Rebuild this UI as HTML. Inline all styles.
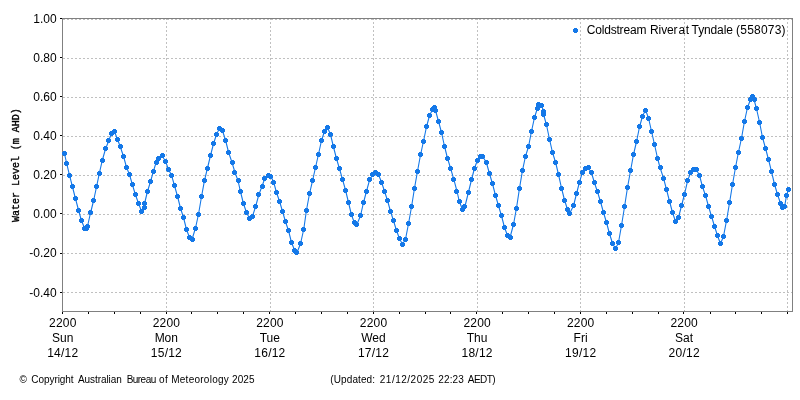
<!DOCTYPE html>
<html lang="en">
<head>
<meta charset="utf-8">
<title>Coldstream River at Tyndale (558073)</title>
<style>
html,body{margin:0;padding:0;background:#fff;}
body{width:800px;height:400px;overflow:hidden;}
svg{display:block;will-change:transform;}
text{font-family:"Liberation Sans","DejaVu Sans",sans-serif;fill:#000;}
.t12{font-size:12px;}
.t10{font-size:10px;}
.mono{font-family:"Liberation Mono","DejaVu Sans Mono",monospace;font-size:10px;stroke:#000;stroke-width:0.35px;}
</style>
</head>
<body>
<svg width="800" height="400" viewBox="0 0 800 400">
<rect x="0" y="0" width="800" height="400" fill="#ffffff"/>
<g stroke="#c0c0c0" stroke-width="1" stroke-dasharray="2,2" shape-rendering="crispEdges"><line x1="63" y1="19.5" x2="792" y2="19.5"/><line x1="63" y1="58.5" x2="792" y2="58.5"/><line x1="63" y1="97.5" x2="792" y2="97.5"/><line x1="63" y1="136.5" x2="792" y2="136.5"/><line x1="63" y1="175.5" x2="792" y2="175.5"/><line x1="63" y1="214.5" x2="792" y2="214.5"/><line x1="63" y1="253.5" x2="792" y2="253.5"/><line x1="63" y1="292.5" x2="792" y2="292.5"/><line x1="166.5" y1="18" x2="166.5" y2="311"/><line x1="270.5" y1="18" x2="270.5" y2="311"/><line x1="373.5" y1="18" x2="373.5" y2="311"/><line x1="477.5" y1="18" x2="477.5" y2="311"/><line x1="580.5" y1="18" x2="580.5" y2="311"/><line x1="684.5" y1="18" x2="684.5" y2="311"/><line x1="787.5" y1="18" x2="787.5" y2="311"/></g>
<rect x="62.5" y="18.5" width="730" height="293" fill="none" stroke="#808080" stroke-width="1" shape-rendering="crispEdges"/>
<g stroke="#000000" stroke-width="1" shape-rendering="crispEdges"><line x1="60" y1="18.5" x2="62" y2="18.5"/><line x1="60" y1="57.5" x2="62" y2="57.5"/><line x1="60" y1="96.5" x2="62" y2="96.5"/><line x1="60" y1="135.5" x2="62" y2="135.5"/><line x1="60" y1="174.5" x2="62" y2="174.5"/><line x1="60" y1="213.5" x2="62" y2="213.5"/><line x1="60" y1="253.5" x2="62" y2="253.5"/><line x1="60" y1="292.5" x2="62" y2="292.5"/><line x1="62.5" y1="312" x2="62.5" y2="314"/><line x1="88.5" y1="312" x2="88.5" y2="314"/><line x1="114.5" y1="312" x2="114.5" y2="314"/><line x1="140.5" y1="312" x2="140.5" y2="314"/><line x1="166.5" y1="312" x2="166.5" y2="314"/><line x1="191.5" y1="312" x2="191.5" y2="314"/><line x1="217.5" y1="312" x2="217.5" y2="314"/><line x1="243.5" y1="312" x2="243.5" y2="314"/><line x1="269.5" y1="312" x2="269.5" y2="314"/><line x1="295.5" y1="312" x2="295.5" y2="314"/><line x1="321.5" y1="312" x2="321.5" y2="314"/><line x1="347.5" y1="312" x2="347.5" y2="314"/><line x1="373.5" y1="312" x2="373.5" y2="314"/><line x1="399.5" y1="312" x2="399.5" y2="314"/><line x1="425.5" y1="312" x2="425.5" y2="314"/><line x1="450.5" y1="312" x2="450.5" y2="314"/><line x1="476.5" y1="312" x2="476.5" y2="314"/><line x1="502.5" y1="312" x2="502.5" y2="314"/><line x1="528.5" y1="312" x2="528.5" y2="314"/><line x1="554.5" y1="312" x2="554.5" y2="314"/><line x1="580.5" y1="312" x2="580.5" y2="314"/><line x1="606.5" y1="312" x2="606.5" y2="314"/><line x1="632.5" y1="312" x2="632.5" y2="314"/><line x1="658.5" y1="312" x2="658.5" y2="314"/><line x1="683.5" y1="312" x2="683.5" y2="314"/><line x1="710.5" y1="312" x2="710.5" y2="314"/><line x1="735.5" y1="312" x2="735.5" y2="314"/><line x1="761.5" y1="312" x2="761.5" y2="314"/><line x1="787.5" y1="312" x2="787.5" y2="314"/></g>
<g class="t12"><text x="56.6" y="22.9" text-anchor="end">1.00</text><text x="56.6" y="62.0" text-anchor="end">0.80</text><text x="56.6" y="101.1" text-anchor="end">0.60</text><text x="56.6" y="140.2" text-anchor="end">0.40</text><text x="56.6" y="179.2" text-anchor="end">0.20</text><text x="56.6" y="218.3" text-anchor="end">0.00</text><text x="56.6" y="257.4" text-anchor="end">-0.20</text><text x="56.6" y="296.5" text-anchor="end">-0.40</text></g>
<g class="t12"><text x="49.1" y="327" textLength="27.3" lengthAdjust="spacing">2200</text><text x="62.7" y="342" text-anchor="middle">Sun</text><text x="47.2" y="356.8" textLength="31" lengthAdjust="spacing">14/12</text><text x="152.7" y="327" textLength="27.3" lengthAdjust="spacing">2200</text><text x="166.3" y="342" text-anchor="middle">Mon</text><text x="150.8" y="356.8" textLength="31" lengthAdjust="spacing">15/12</text><text x="256.2" y="327" textLength="27.3" lengthAdjust="spacing">2200</text><text x="269.8" y="342" text-anchor="middle">Tue</text><text x="254.3" y="356.8" textLength="31" lengthAdjust="spacing">16/12</text><text x="359.8" y="327" textLength="27.3" lengthAdjust="spacing">2200</text><text x="373.4" y="342" text-anchor="middle">Wed</text><text x="357.9" y="356.8" textLength="31" lengthAdjust="spacing">17/12</text><text x="463.4" y="327" textLength="27.3" lengthAdjust="spacing">2200</text><text x="477.0" y="342" text-anchor="middle">Thu</text><text x="461.5" y="356.8" textLength="31" lengthAdjust="spacing">18/12</text><text x="567.0" y="327" textLength="27.3" lengthAdjust="spacing">2200</text><text x="580.6" y="342" text-anchor="middle">Fri</text><text x="565.1" y="356.8" textLength="31" lengthAdjust="spacing">19/12</text><text x="670.5" y="327" textLength="27.3" lengthAdjust="spacing">2200</text><text x="684.1" y="342" text-anchor="middle">Sat</text><text x="668.6" y="356.8" textLength="31" lengthAdjust="spacing">20/12</text></g>
<text class="mono" transform="translate(19,222) rotate(-90)" textLength="113.8" lengthAdjust="spacing">Water Level (m AHD)</text>
<polyline points="64.5,153.75 66.75,163.75 69.5,175.12 72.5,187.0 75.5,198.75 78.5,210.0 81.5,220.75 84.5,228.0 86.0,228.0 87.5,226.25 90.5,213.0 93.5,201.0 96.5,187.0 99.38,173.12 102.25,160.5 105.5,149.0 108.75,140.75 111.25,133.75 114.5,131.75 117.5,139.25 120.25,146.75 123.5,156.25 126.5,167.25 129.5,174.62 132.5,185.0 135.5,195.0 138.5,203.25 141.5,211.25 144.25,207.25 144.5,203.75 147.5,191.25 150.5,181.75 153.38,171.38 156.25,162.0 158.75,158.75 162.0,155.75 165.5,161.25 168.5,169.5 171.5,175.12 174.5,185.75 177.5,196.25 180.5,208.25 183.5,217.5 186.5,229.5 189.5,237.5 192.0,239.5 195.5,228.0 198.5,214.25 201.5,196.75 204.5,180.38 207.5,168.0 210.5,155.5 213.5,143.75 216.5,134.5 219.5,128.25 222.5,130.75 225.5,140.0 228.5,152.0 232.0,162.5 235.0,172.5 238.0,180.62 240.5,191.75 243.5,203.75 246.5,212.5 249.5,218.25 252.5,216.25 255.5,207.0 258.75,195.0 262.0,186.25 265.0,178.0 268.0,175.5 271.0,176.25 273.75,182.5 276.5,192.5 279.5,201.25 282.5,211.25 285.5,221.75 288.5,230.5 291.5,242.5 294.5,250.0 297.0,252.5 300.5,243.75 303.75,229.25 306.5,210.0 309.5,193.75 312.5,180.88 315.5,167.5 318.5,154.25 321.5,140.5 324.5,131.25 327.5,127.5 330.5,134.5 333.5,147.0 336.5,158.75 339.5,168.75 342.5,179.38 345.5,190.0 348.5,202.5 351.5,215.0 354.5,223.0 357.0,224.25 360.5,215.75 363.5,202.5 366.5,191.25 369.75,179.38 372.75,175.0 375.5,172.75 378.5,174.75 381.5,182.0 384.5,191.25 387.5,200.5 390.5,211.25 393.5,220.75 396.5,230.5 399.5,238.75 402.5,244.25 405.5,239.25 408.5,223.75 411.5,207.0 414.5,188.25 417.5,171.25 420.5,155.0 423.5,141.25 426.5,126.75 429.5,115.75 432.5,109.5 434.0,107.5 435.5,110.5 438.5,121.25 441.5,132.5 444.5,146.25 447.5,158.25 450.5,168.0 453.88,179.62 457.0,191.25 459.25,201.25 462.5,209.5 465.0,206.25 468.5,192.0 471.5,179.75 474.5,168.25 477.5,160.0 480.5,157.0 483.0,156.75 486.5,163.0 489.5,173.75 492.5,183.75 495.5,195.5 498.5,205.75 501.5,215.75 504.5,227.5 507.5,235.5 510.0,237.5 513.5,224.5 516.5,208.0 519.5,188.25 522.5,170.38 525.5,156.25 528.5,146.75 531.5,131.25 534.5,117.5 537.5,108.0 538.75,105.0 541.75,105.25 543.5,111.5 543.6,114.5 546.5,125.0 549.5,139.25 552.5,152.5 555.5,162.0 558.5,174.5 561.5,188.0 564.5,200.0 567.5,209.5 569.5,213.75 573.5,205.75 576.5,193.75 579.5,182.0 582.5,172.12 585.5,168.0 588.0,167.5 591.5,172.75 594.5,183.0 597.5,191.75 600.5,201.75 603.5,212.5 606.5,222.5 609.5,233.75 612.5,243.25 615.5,248.75 618.5,242.5 621.5,225.5 624.5,207.0 627.5,187.5 630.5,171.0 633.5,154.5 636.5,141.75 639.5,127.0 642.5,116.25 645.5,110.0 648.5,118.0 651.5,131.25 654.5,144.5 657.5,158.0 660.0,167.5 663.5,178.12 666.5,189.5 669.5,201.25 672.5,212.5 675.5,221.25 678.5,217.5 681.5,205.75 684.5,194.25 687.75,180.12 690.75,172.5 693.75,169.75 696.5,169.75 699.5,175.5 702.5,186.75 705.5,195.5 708.5,206.25 711.5,216.25 714.5,226.25 717.5,235.75 720.5,243.75 723.5,236.25 726.5,220.75 729.5,203.0 732.5,184.5 735.5,167.5 738.5,152.0 741.5,138.25 744.5,121.25 747.5,107.5 750.5,99.5 752.25,96.5 754.0,99.5 756.5,108.75 759.5,122.0 762.5,137.5 765.5,148.25 768.5,159.5 771.5,171.62 774.5,184.25 777.5,194.5 780.5,203.25 782.5,207.5 784.5,207.0 786.5,195.75 788.5,189.25" fill="none" stroke="#1478e8" stroke-width="1.1" stroke-linejoin="round"/>
<g fill="#1478e8" shape-rendering="crispEdges"><path d="M63,151h3v1h1v3h-1v1h-3v-1h-1v-3h1z"/><path d="M65,161h3v1h1v3h-1v1h-3v-1h-1v-3h1z"/><path d="M68,173h3v1h1v3h-1v1h-3v-1h-1v-3h1z"/><path d="M71,184h3v1h1v3h-1v1h-3v-1h-1v-3h1z"/><path d="M74,196h3v1h1v3h-1v1h-3v-1h-1v-3h1z"/><path d="M77,208h3v1h1v3h-1v1h-3v-1h-1v-3h1z"/><path d="M80,218h3v1h1v3h-1v1h-3v-1h-1v-3h1z"/><path d="M83,226h3v1h1v3h-1v1h-3v-1h-1v-3h1z"/><path d="M85,226h3v1h1v3h-1v1h-3v-1h-1v-3h1z"/><path d="M86,224h3v1h1v3h-1v1h-3v-1h-1v-3h1z"/><path d="M89,210h3v1h1v3h-1v1h-3v-1h-1v-3h1z"/><path d="M92,198h3v1h1v3h-1v1h-3v-1h-1v-3h1z"/><path d="M95,184h3v1h1v3h-1v1h-3v-1h-1v-3h1z"/><path d="M98,171h3v1h1v3h-1v1h-3v-1h-1v-3h1z"/><path d="M101,158h3v1h1v3h-1v1h-3v-1h-1v-3h1z"/><path d="M104,146h3v1h1v3h-1v1h-3v-1h-1v-3h1z"/><path d="M107,138h3v1h1v3h-1v1h-3v-1h-1v-3h1z"/><path d="M110,131h3v1h1v3h-1v1h-3v-1h-1v-3h1z"/><path d="M113,129h3v1h1v3h-1v1h-3v-1h-1v-3h1z"/><path d="M116,137h3v1h1v3h-1v1h-3v-1h-1v-3h1z"/><path d="M119,144h3v1h1v3h-1v1h-3v-1h-1v-3h1z"/><path d="M122,154h3v1h1v3h-1v1h-3v-1h-1v-3h1z"/><path d="M125,165h3v1h1v3h-1v1h-3v-1h-1v-3h1z"/><path d="M128,172h3v1h1v3h-1v1h-3v-1h-1v-3h1z"/><path d="M131,182h3v1h1v3h-1v1h-3v-1h-1v-3h1z"/><path d="M134,192h3v1h1v3h-1v1h-3v-1h-1v-3h1z"/><path d="M137,201h3v1h1v3h-1v1h-3v-1h-1v-3h1z"/><path d="M140,209h3v1h1v3h-1v1h-3v-1h-1v-3h1z"/><path d="M143,205h3v1h1v3h-1v1h-3v-1h-1v-3h1z"/><path d="M143,201h3v1h1v3h-1v1h-3v-1h-1v-3h1z"/><path d="M146,189h3v1h1v3h-1v1h-3v-1h-1v-3h1z"/><path d="M149,179h3v1h1v3h-1v1h-3v-1h-1v-3h1z"/><path d="M152,169h3v1h1v3h-1v1h-3v-1h-1v-3h1z"/><path d="M155,160h3v1h1v3h-1v1h-3v-1h-1v-3h1z"/><path d="M157,156h3v1h1v3h-1v1h-3v-1h-1v-3h1z"/><path d="M161,153h3v1h1v3h-1v1h-3v-1h-1v-3h1z"/><path d="M164,159h3v1h1v3h-1v1h-3v-1h-1v-3h1z"/><path d="M167,167h3v1h1v3h-1v1h-3v-1h-1v-3h1z"/><path d="M170,173h3v1h1v3h-1v1h-3v-1h-1v-3h1z"/><path d="M173,183h3v1h1v3h-1v1h-3v-1h-1v-3h1z"/><path d="M176,194h3v1h1v3h-1v1h-3v-1h-1v-3h1z"/><path d="M179,206h3v1h1v3h-1v1h-3v-1h-1v-3h1z"/><path d="M182,215h3v1h1v3h-1v1h-3v-1h-1v-3h1z"/><path d="M185,227h3v1h1v3h-1v1h-3v-1h-1v-3h1z"/><path d="M188,235h3v1h1v3h-1v1h-3v-1h-1v-3h1z"/><path d="M191,237h3v1h1v3h-1v1h-3v-1h-1v-3h1z"/><path d="M194,226h3v1h1v3h-1v1h-3v-1h-1v-3h1z"/><path d="M197,212h3v1h1v3h-1v1h-3v-1h-1v-3h1z"/><path d="M200,194h3v1h1v3h-1v1h-3v-1h-1v-3h1z"/><path d="M203,178h3v1h1v3h-1v1h-3v-1h-1v-3h1z"/><path d="M206,166h3v1h1v3h-1v1h-3v-1h-1v-3h1z"/><path d="M209,153h3v1h1v3h-1v1h-3v-1h-1v-3h1z"/><path d="M212,141h3v1h1v3h-1v1h-3v-1h-1v-3h1z"/><path d="M215,132h3v1h1v3h-1v1h-3v-1h-1v-3h1z"/><path d="M218,126h3v1h1v3h-1v1h-3v-1h-1v-3h1z"/><path d="M221,128h3v1h1v3h-1v1h-3v-1h-1v-3h1z"/><path d="M224,138h3v1h1v3h-1v1h-3v-1h-1v-3h1z"/><path d="M227,150h3v1h1v3h-1v1h-3v-1h-1v-3h1z"/><path d="M231,160h3v1h1v3h-1v1h-3v-1h-1v-3h1z"/><path d="M233,170h3v1h1v3h-1v1h-3v-1h-1v-3h1z"/><path d="M237,178h3v1h1v3h-1v1h-3v-1h-1v-3h1z"/><path d="M239,189h3v1h1v3h-1v1h-3v-1h-1v-3h1z"/><path d="M242,201h3v1h1v3h-1v1h-3v-1h-1v-3h1z"/><path d="M245,210h3v1h1v3h-1v1h-3v-1h-1v-3h1z"/><path d="M248,216h3v1h1v3h-1v1h-3v-1h-1v-3h1z"/><path d="M251,214h3v1h1v3h-1v1h-3v-1h-1v-3h1z"/><path d="M254,204h3v1h1v3h-1v1h-3v-1h-1v-3h1z"/><path d="M257,192h3v1h1v3h-1v1h-3v-1h-1v-3h1z"/><path d="M261,184h3v1h1v3h-1v1h-3v-1h-1v-3h1z"/><path d="M263,176h3v1h1v3h-1v1h-3v-1h-1v-3h1z"/><path d="M267,173h3v1h1v3h-1v1h-3v-1h-1v-3h1z"/><path d="M269,174h3v1h1v3h-1v1h-3v-1h-1v-3h1z"/><path d="M272,180h3v1h1v3h-1v1h-3v-1h-1v-3h1z"/><path d="M275,190h3v1h1v3h-1v1h-3v-1h-1v-3h1z"/><path d="M278,199h3v1h1v3h-1v1h-3v-1h-1v-3h1z"/><path d="M281,209h3v1h1v3h-1v1h-3v-1h-1v-3h1z"/><path d="M284,219h3v1h1v3h-1v1h-3v-1h-1v-3h1z"/><path d="M287,228h3v1h1v3h-1v1h-3v-1h-1v-3h1z"/><path d="M290,240h3v1h1v3h-1v1h-3v-1h-1v-3h1z"/><path d="M293,248h3v1h1v3h-1v1h-3v-1h-1v-3h1z"/><path d="M295,250h3v1h1v3h-1v1h-3v-1h-1v-3h1z"/><path d="M299,241h3v1h1v3h-1v1h-3v-1h-1v-3h1z"/><path d="M302,227h3v1h1v3h-1v1h-3v-1h-1v-3h1z"/><path d="M305,208h3v1h1v3h-1v1h-3v-1h-1v-3h1z"/><path d="M308,191h3v1h1v3h-1v1h-3v-1h-1v-3h1z"/><path d="M311,178h3v1h1v3h-1v1h-3v-1h-1v-3h1z"/><path d="M314,165h3v1h1v3h-1v1h-3v-1h-1v-3h1z"/><path d="M317,152h3v1h1v3h-1v1h-3v-1h-1v-3h1z"/><path d="M320,138h3v1h1v3h-1v1h-3v-1h-1v-3h1z"/><path d="M323,129h3v1h1v3h-1v1h-3v-1h-1v-3h1z"/><path d="M326,125h3v1h1v3h-1v1h-3v-1h-1v-3h1z"/><path d="M329,132h3v1h1v3h-1v1h-3v-1h-1v-3h1z"/><path d="M332,144h3v1h1v3h-1v1h-3v-1h-1v-3h1z"/><path d="M335,156h3v1h1v3h-1v1h-3v-1h-1v-3h1z"/><path d="M338,166h3v1h1v3h-1v1h-3v-1h-1v-3h1z"/><path d="M341,177h3v1h1v3h-1v1h-3v-1h-1v-3h1z"/><path d="M344,188h3v1h1v3h-1v1h-3v-1h-1v-3h1z"/><path d="M347,200h3v1h1v3h-1v1h-3v-1h-1v-3h1z"/><path d="M350,212h3v1h1v3h-1v1h-3v-1h-1v-3h1z"/><path d="M353,220h3v1h1v3h-1v1h-3v-1h-1v-3h1z"/><path d="M355,222h3v1h1v3h-1v1h-3v-1h-1v-3h1z"/><path d="M359,213h3v1h1v3h-1v1h-3v-1h-1v-3h1z"/><path d="M362,200h3v1h1v3h-1v1h-3v-1h-1v-3h1z"/><path d="M365,189h3v1h1v3h-1v1h-3v-1h-1v-3h1z"/><path d="M368,177h3v1h1v3h-1v1h-3v-1h-1v-3h1z"/><path d="M371,172h3v1h1v3h-1v1h-3v-1h-1v-3h1z"/><path d="M374,170h3v1h1v3h-1v1h-3v-1h-1v-3h1z"/><path d="M377,172h3v1h1v3h-1v1h-3v-1h-1v-3h1z"/><path d="M380,180h3v1h1v3h-1v1h-3v-1h-1v-3h1z"/><path d="M383,189h3v1h1v3h-1v1h-3v-1h-1v-3h1z"/><path d="M386,198h3v1h1v3h-1v1h-3v-1h-1v-3h1z"/><path d="M389,209h3v1h1v3h-1v1h-3v-1h-1v-3h1z"/><path d="M392,218h3v1h1v3h-1v1h-3v-1h-1v-3h1z"/><path d="M395,228h3v1h1v3h-1v1h-3v-1h-1v-3h1z"/><path d="M398,236h3v1h1v3h-1v1h-3v-1h-1v-3h1z"/><path d="M401,242h3v1h1v3h-1v1h-3v-1h-1v-3h1z"/><path d="M404,237h3v1h1v3h-1v1h-3v-1h-1v-3h1z"/><path d="M407,221h3v1h1v3h-1v1h-3v-1h-1v-3h1z"/><path d="M410,204h3v1h1v3h-1v1h-3v-1h-1v-3h1z"/><path d="M413,186h3v1h1v3h-1v1h-3v-1h-1v-3h1z"/><path d="M416,169h3v1h1v3h-1v1h-3v-1h-1v-3h1z"/><path d="M419,152h3v1h1v3h-1v1h-3v-1h-1v-3h1z"/><path d="M422,139h3v1h1v3h-1v1h-3v-1h-1v-3h1z"/><path d="M425,124h3v1h1v3h-1v1h-3v-1h-1v-3h1z"/><path d="M428,113h3v1h1v3h-1v1h-3v-1h-1v-3h1z"/><path d="M431,107h3v1h1v3h-1v1h-3v-1h-1v-3h1z"/><path d="M433,105h3v1h1v3h-1v1h-3v-1h-1v-3h1z"/><path d="M434,108h3v1h1v3h-1v1h-3v-1h-1v-3h1z"/><path d="M437,119h3v1h1v3h-1v1h-3v-1h-1v-3h1z"/><path d="M440,130h3v1h1v3h-1v1h-3v-1h-1v-3h1z"/><path d="M443,144h3v1h1v3h-1v1h-3v-1h-1v-3h1z"/><path d="M446,156h3v1h1v3h-1v1h-3v-1h-1v-3h1z"/><path d="M449,166h3v1h1v3h-1v1h-3v-1h-1v-3h1z"/><path d="M452,177h3v1h1v3h-1v1h-3v-1h-1v-3h1z"/><path d="M455,189h3v1h1v3h-1v1h-3v-1h-1v-3h1z"/><path d="M458,199h3v1h1v3h-1v1h-3v-1h-1v-3h1z"/><path d="M461,207h3v1h1v3h-1v1h-3v-1h-1v-3h1z"/><path d="M463,204h3v1h1v3h-1v1h-3v-1h-1v-3h1z"/><path d="M467,190h3v1h1v3h-1v1h-3v-1h-1v-3h1z"/><path d="M470,177h3v1h1v3h-1v1h-3v-1h-1v-3h1z"/><path d="M473,166h3v1h1v3h-1v1h-3v-1h-1v-3h1z"/><path d="M476,158h3v1h1v3h-1v1h-3v-1h-1v-3h1z"/><path d="M479,154h3v1h1v3h-1v1h-3v-1h-1v-3h1z"/><path d="M481,154h3v1h1v3h-1v1h-3v-1h-1v-3h1z"/><path d="M485,160h3v1h1v3h-1v1h-3v-1h-1v-3h1z"/><path d="M488,171h3v1h1v3h-1v1h-3v-1h-1v-3h1z"/><path d="M491,181h3v1h1v3h-1v1h-3v-1h-1v-3h1z"/><path d="M494,193h3v1h1v3h-1v1h-3v-1h-1v-3h1z"/><path d="M497,203h3v1h1v3h-1v1h-3v-1h-1v-3h1z"/><path d="M500,213h3v1h1v3h-1v1h-3v-1h-1v-3h1z"/><path d="M503,225h3v1h1v3h-1v1h-3v-1h-1v-3h1z"/><path d="M506,233h3v1h1v3h-1v1h-3v-1h-1v-3h1z"/><path d="M509,235h3v1h1v3h-1v1h-3v-1h-1v-3h1z"/><path d="M512,222h3v1h1v3h-1v1h-3v-1h-1v-3h1z"/><path d="M515,206h3v1h1v3h-1v1h-3v-1h-1v-3h1z"/><path d="M518,186h3v1h1v3h-1v1h-3v-1h-1v-3h1z"/><path d="M521,168h3v1h1v3h-1v1h-3v-1h-1v-3h1z"/><path d="M524,154h3v1h1v3h-1v1h-3v-1h-1v-3h1z"/><path d="M527,144h3v1h1v3h-1v1h-3v-1h-1v-3h1z"/><path d="M530,129h3v1h1v3h-1v1h-3v-1h-1v-3h1z"/><path d="M533,115h3v1h1v3h-1v1h-3v-1h-1v-3h1z"/><path d="M536,106h3v1h1v3h-1v1h-3v-1h-1v-3h1z"/><path d="M537,102h3v1h1v3h-1v1h-3v-1h-1v-3h1z"/><path d="M540,103h3v1h1v3h-1v1h-3v-1h-1v-3h1z"/><path d="M542,109h3v1h1v3h-1v1h-3v-1h-1v-3h1z"/><path d="M542,112h3v1h1v3h-1v1h-3v-1h-1v-3h1z"/><path d="M545,122h3v1h1v3h-1v1h-3v-1h-1v-3h1z"/><path d="M548,137h3v1h1v3h-1v1h-3v-1h-1v-3h1z"/><path d="M551,150h3v1h1v3h-1v1h-3v-1h-1v-3h1z"/><path d="M554,160h3v1h1v3h-1v1h-3v-1h-1v-3h1z"/><path d="M557,172h3v1h1v3h-1v1h-3v-1h-1v-3h1z"/><path d="M560,186h3v1h1v3h-1v1h-3v-1h-1v-3h1z"/><path d="M563,198h3v1h1v3h-1v1h-3v-1h-1v-3h1z"/><path d="M566,207h3v1h1v3h-1v1h-3v-1h-1v-3h1z"/><path d="M568,211h3v1h1v3h-1v1h-3v-1h-1v-3h1z"/><path d="M572,203h3v1h1v3h-1v1h-3v-1h-1v-3h1z"/><path d="M575,191h3v1h1v3h-1v1h-3v-1h-1v-3h1z"/><path d="M578,180h3v1h1v3h-1v1h-3v-1h-1v-3h1z"/><path d="M581,170h3v1h1v3h-1v1h-3v-1h-1v-3h1z"/><path d="M584,166h3v1h1v3h-1v1h-3v-1h-1v-3h1z"/><path d="M587,165h3v1h1v3h-1v1h-3v-1h-1v-3h1z"/><path d="M590,170h3v1h1v3h-1v1h-3v-1h-1v-3h1z"/><path d="M593,180h3v1h1v3h-1v1h-3v-1h-1v-3h1z"/><path d="M596,189h3v1h1v3h-1v1h-3v-1h-1v-3h1z"/><path d="M599,199h3v1h1v3h-1v1h-3v-1h-1v-3h1z"/><path d="M602,210h3v1h1v3h-1v1h-3v-1h-1v-3h1z"/><path d="M605,220h3v1h1v3h-1v1h-3v-1h-1v-3h1z"/><path d="M608,231h3v1h1v3h-1v1h-3v-1h-1v-3h1z"/><path d="M611,241h3v1h1v3h-1v1h-3v-1h-1v-3h1z"/><path d="M614,246h3v1h1v3h-1v1h-3v-1h-1v-3h1z"/><path d="M617,240h3v1h1v3h-1v1h-3v-1h-1v-3h1z"/><path d="M620,223h3v1h1v3h-1v1h-3v-1h-1v-3h1z"/><path d="M623,204h3v1h1v3h-1v1h-3v-1h-1v-3h1z"/><path d="M626,185h3v1h1v3h-1v1h-3v-1h-1v-3h1z"/><path d="M629,168h3v1h1v3h-1v1h-3v-1h-1v-3h1z"/><path d="M632,152h3v1h1v3h-1v1h-3v-1h-1v-3h1z"/><path d="M635,139h3v1h1v3h-1v1h-3v-1h-1v-3h1z"/><path d="M638,124h3v1h1v3h-1v1h-3v-1h-1v-3h1z"/><path d="M641,114h3v1h1v3h-1v1h-3v-1h-1v-3h1z"/><path d="M644,108h3v1h1v3h-1v1h-3v-1h-1v-3h1z"/><path d="M647,116h3v1h1v3h-1v1h-3v-1h-1v-3h1z"/><path d="M650,129h3v1h1v3h-1v1h-3v-1h-1v-3h1z"/><path d="M653,142h3v1h1v3h-1v1h-3v-1h-1v-3h1z"/><path d="M656,156h3v1h1v3h-1v1h-3v-1h-1v-3h1z"/><path d="M659,165h3v1h1v3h-1v1h-3v-1h-1v-3h1z"/><path d="M662,176h3v1h1v3h-1v1h-3v-1h-1v-3h1z"/><path d="M665,187h3v1h1v3h-1v1h-3v-1h-1v-3h1z"/><path d="M668,199h3v1h1v3h-1v1h-3v-1h-1v-3h1z"/><path d="M671,210h3v1h1v3h-1v1h-3v-1h-1v-3h1z"/><path d="M674,219h3v1h1v3h-1v1h-3v-1h-1v-3h1z"/><path d="M677,215h3v1h1v3h-1v1h-3v-1h-1v-3h1z"/><path d="M680,203h3v1h1v3h-1v1h-3v-1h-1v-3h1z"/><path d="M683,192h3v1h1v3h-1v1h-3v-1h-1v-3h1z"/><path d="M686,178h3v1h1v3h-1v1h-3v-1h-1v-3h1z"/><path d="M689,170h3v1h1v3h-1v1h-3v-1h-1v-3h1z"/><path d="M692,167h3v1h1v3h-1v1h-3v-1h-1v-3h1z"/><path d="M695,167h3v1h1v3h-1v1h-3v-1h-1v-3h1z"/><path d="M698,173h3v1h1v3h-1v1h-3v-1h-1v-3h1z"/><path d="M701,184h3v1h1v3h-1v1h-3v-1h-1v-3h1z"/><path d="M704,193h3v1h1v3h-1v1h-3v-1h-1v-3h1z"/><path d="M707,204h3v1h1v3h-1v1h-3v-1h-1v-3h1z"/><path d="M710,214h3v1h1v3h-1v1h-3v-1h-1v-3h1z"/><path d="M713,224h3v1h1v3h-1v1h-3v-1h-1v-3h1z"/><path d="M716,233h3v1h1v3h-1v1h-3v-1h-1v-3h1z"/><path d="M719,241h3v1h1v3h-1v1h-3v-1h-1v-3h1z"/><path d="M722,234h3v1h1v3h-1v1h-3v-1h-1v-3h1z"/><path d="M725,218h3v1h1v3h-1v1h-3v-1h-1v-3h1z"/><path d="M728,200h3v1h1v3h-1v1h-3v-1h-1v-3h1z"/><path d="M731,182h3v1h1v3h-1v1h-3v-1h-1v-3h1z"/><path d="M734,165h3v1h1v3h-1v1h-3v-1h-1v-3h1z"/><path d="M737,150h3v1h1v3h-1v1h-3v-1h-1v-3h1z"/><path d="M740,136h3v1h1v3h-1v1h-3v-1h-1v-3h1z"/><path d="M743,119h3v1h1v3h-1v1h-3v-1h-1v-3h1z"/><path d="M746,105h3v1h1v3h-1v1h-3v-1h-1v-3h1z"/><path d="M749,97h3v1h1v3h-1v1h-3v-1h-1v-3h1z"/><path d="M751,94h3v1h1v3h-1v1h-3v-1h-1v-3h1z"/><path d="M753,97h3v1h1v3h-1v1h-3v-1h-1v-3h1z"/><path d="M755,106h3v1h1v3h-1v1h-3v-1h-1v-3h1z"/><path d="M758,120h3v1h1v3h-1v1h-3v-1h-1v-3h1z"/><path d="M761,135h3v1h1v3h-1v1h-3v-1h-1v-3h1z"/><path d="M764,146h3v1h1v3h-1v1h-3v-1h-1v-3h1z"/><path d="M767,157h3v1h1v3h-1v1h-3v-1h-1v-3h1z"/><path d="M770,169h3v1h1v3h-1v1h-3v-1h-1v-3h1z"/><path d="M773,182h3v1h1v3h-1v1h-3v-1h-1v-3h1z"/><path d="M776,192h3v1h1v3h-1v1h-3v-1h-1v-3h1z"/><path d="M779,201h3v1h1v3h-1v1h-3v-1h-1v-3h1z"/><path d="M781,205h3v1h1v3h-1v1h-3v-1h-1v-3h1z"/><path d="M783,204h3v1h1v3h-1v1h-3v-1h-1v-3h1z"/><path d="M785,193h3v1h1v3h-1v1h-3v-1h-1v-3h1z"/><path d="M787,187h3v1h1v3h-1v1h-3v-1h-1v-3h1z"/><path d="M574,28h3v1h1v3h-1v1h-3v-1h-1v-3h1z"/></g>
<text class="t12" y="33.7" xml:space="preserve"><tspan x="586.7" textLength="59.7" lengthAdjust="spacing">Coldstream</tspan> <tspan x="650.0" textLength="27.6" lengthAdjust="spacing">River</tspan> <tspan x="678.6" textLength="10.4" lengthAdjust="spacing">at</tspan> <tspan x="691.6" textLength="41.3" lengthAdjust="spacing">Tyndale</tspan> <tspan x="736.1" textLength="49.5" lengthAdjust="spacing">(558073)</tspan></text>
<text class="t10" y="383.3" xml:space="preserve"><tspan x="19.5" textLength="8.1" lengthAdjust="spacing">©</tspan> <tspan x="31.3" textLength="42.3" lengthAdjust="spacing">Copyright</tspan> <tspan x="78.0" textLength="43.8" lengthAdjust="spacing">Australian</tspan> <tspan x="126.7" textLength="29.5" lengthAdjust="spacing">Bureau</tspan> <tspan x="159.0" textLength="8.9" lengthAdjust="spacing">of</tspan> <tspan x="171.2" textLength="57.6" lengthAdjust="spacing">Meteorology</tspan> <tspan x="232.1" textLength="22.4" lengthAdjust="spacing">2025</tspan></text>
<text class="t10" y="383.3" xml:space="preserve"><tspan x="330.3" textLength="44.7" lengthAdjust="spacing">(Updated:</tspan> <tspan x="379.8" textLength="54.5" lengthAdjust="spacing">21/12/2025</tspan> <tspan x="438.3" textLength="25.5" lengthAdjust="spacing">22:23</tspan> <tspan x="467.8" textLength="27.7" lengthAdjust="spacing">AEDT)</tspan></text>
</svg>
</body>
</html>
